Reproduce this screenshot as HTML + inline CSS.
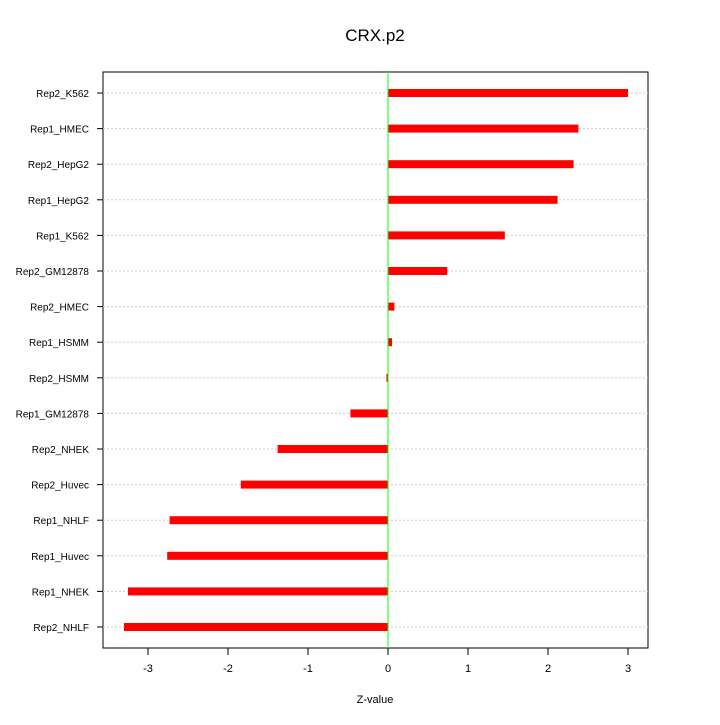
<!DOCTYPE html>
<html><head><meta charset="utf-8"><style>
body{margin:0;background:#fff}
svg text{font-family:"Liberation Sans",sans-serif}
</style></head><body>
<svg id="chart" width="720" height="720">
<text x="375" y="41" font-size="17" text-anchor="middle">CRX.p2</text>
<rect x="103" y="72" width="545" height="576" fill="none" stroke="#000" stroke-width="1"/>
<g id="grid"></g><g id="bars"></g><g id="ylabels"></g><g id="xaxis"></g>
<text x="375" y="703" font-size="11" text-anchor="middle">Z-value</text>
</svg>
<script>
const categories=["Rep2_K562","Rep1_HMEC","Rep2_HepG2","Rep1_HepG2","Rep1_K562","Rep2_GM12878","Rep2_HMEC","Rep1_HSMM","Rep2_HSMM","Rep1_GM12878","Rep2_NHEK","Rep2_Huvec","Rep1_NHLF","Rep1_Huvec","Rep1_NHEK","Rep2_NHLF"];
const values=[3.0,2.38,2.32,2.12,1.46,0.74,0.08,0.05,-0.02,-0.47,-1.38,-1.84,-2.73,-2.76,-3.25,-3.3];
const xTicks=[-3,-2,-1,0,1,2,3];
const NS="http://www.w3.org/2000/svg";
const x=v=>388+v*80;
const y=i=>93+i*(627-93)/(categories.length-1);
function mk(t,a,p){const e=document.createElementNS(NS,t);for(const k in a)e.setAttribute(k,a[k]);p.appendChild(e);return e;}
const grid=document.getElementById('grid'),bars=document.getElementById('bars'),yl=document.getElementById('ylabels'),xa=document.getElementById('xaxis');
categories.forEach((c,i)=>{
  const g=mk('line',{x1:103,x2:648,y1:y(i),y2:y(i),stroke:'#ccc','stroke-dasharray':'2,2'},grid);
  
  
  const v=values[i];
  const b=mk('rect',{x:Math.min(x(0),x(v)),y:y(i)-4,width:Math.max(Math.abs(x(v)-x(0)),1),height:8,fill:'#f00'},bars);
  
  
  const t=mk('text',{x:89,y:y(i)+4,'font-size':10,'text-anchor':'end'},yl);
  t.textContent=c;
  
  
  const tk=mk('line',{x1:97,x2:103,y1:y(i),y2:y(i),stroke:'#000'},yl);
  
  
});
const zl=mk('line',{x1:x(0),x2:x(0),y1:72,y2:648,stroke:'#0f0'},bars);


xTicks.forEach(v=>{
  const l=mk('line',{x1:x(v),x2:x(v),y1:648,y2:655,stroke:'#000'},xa);
  
  
  const t=mk('text',{x:x(v),y:672,'font-size':11,'text-anchor':'middle'},xa);
  t.textContent=v;
  
  
});
</script>
</body></html>
